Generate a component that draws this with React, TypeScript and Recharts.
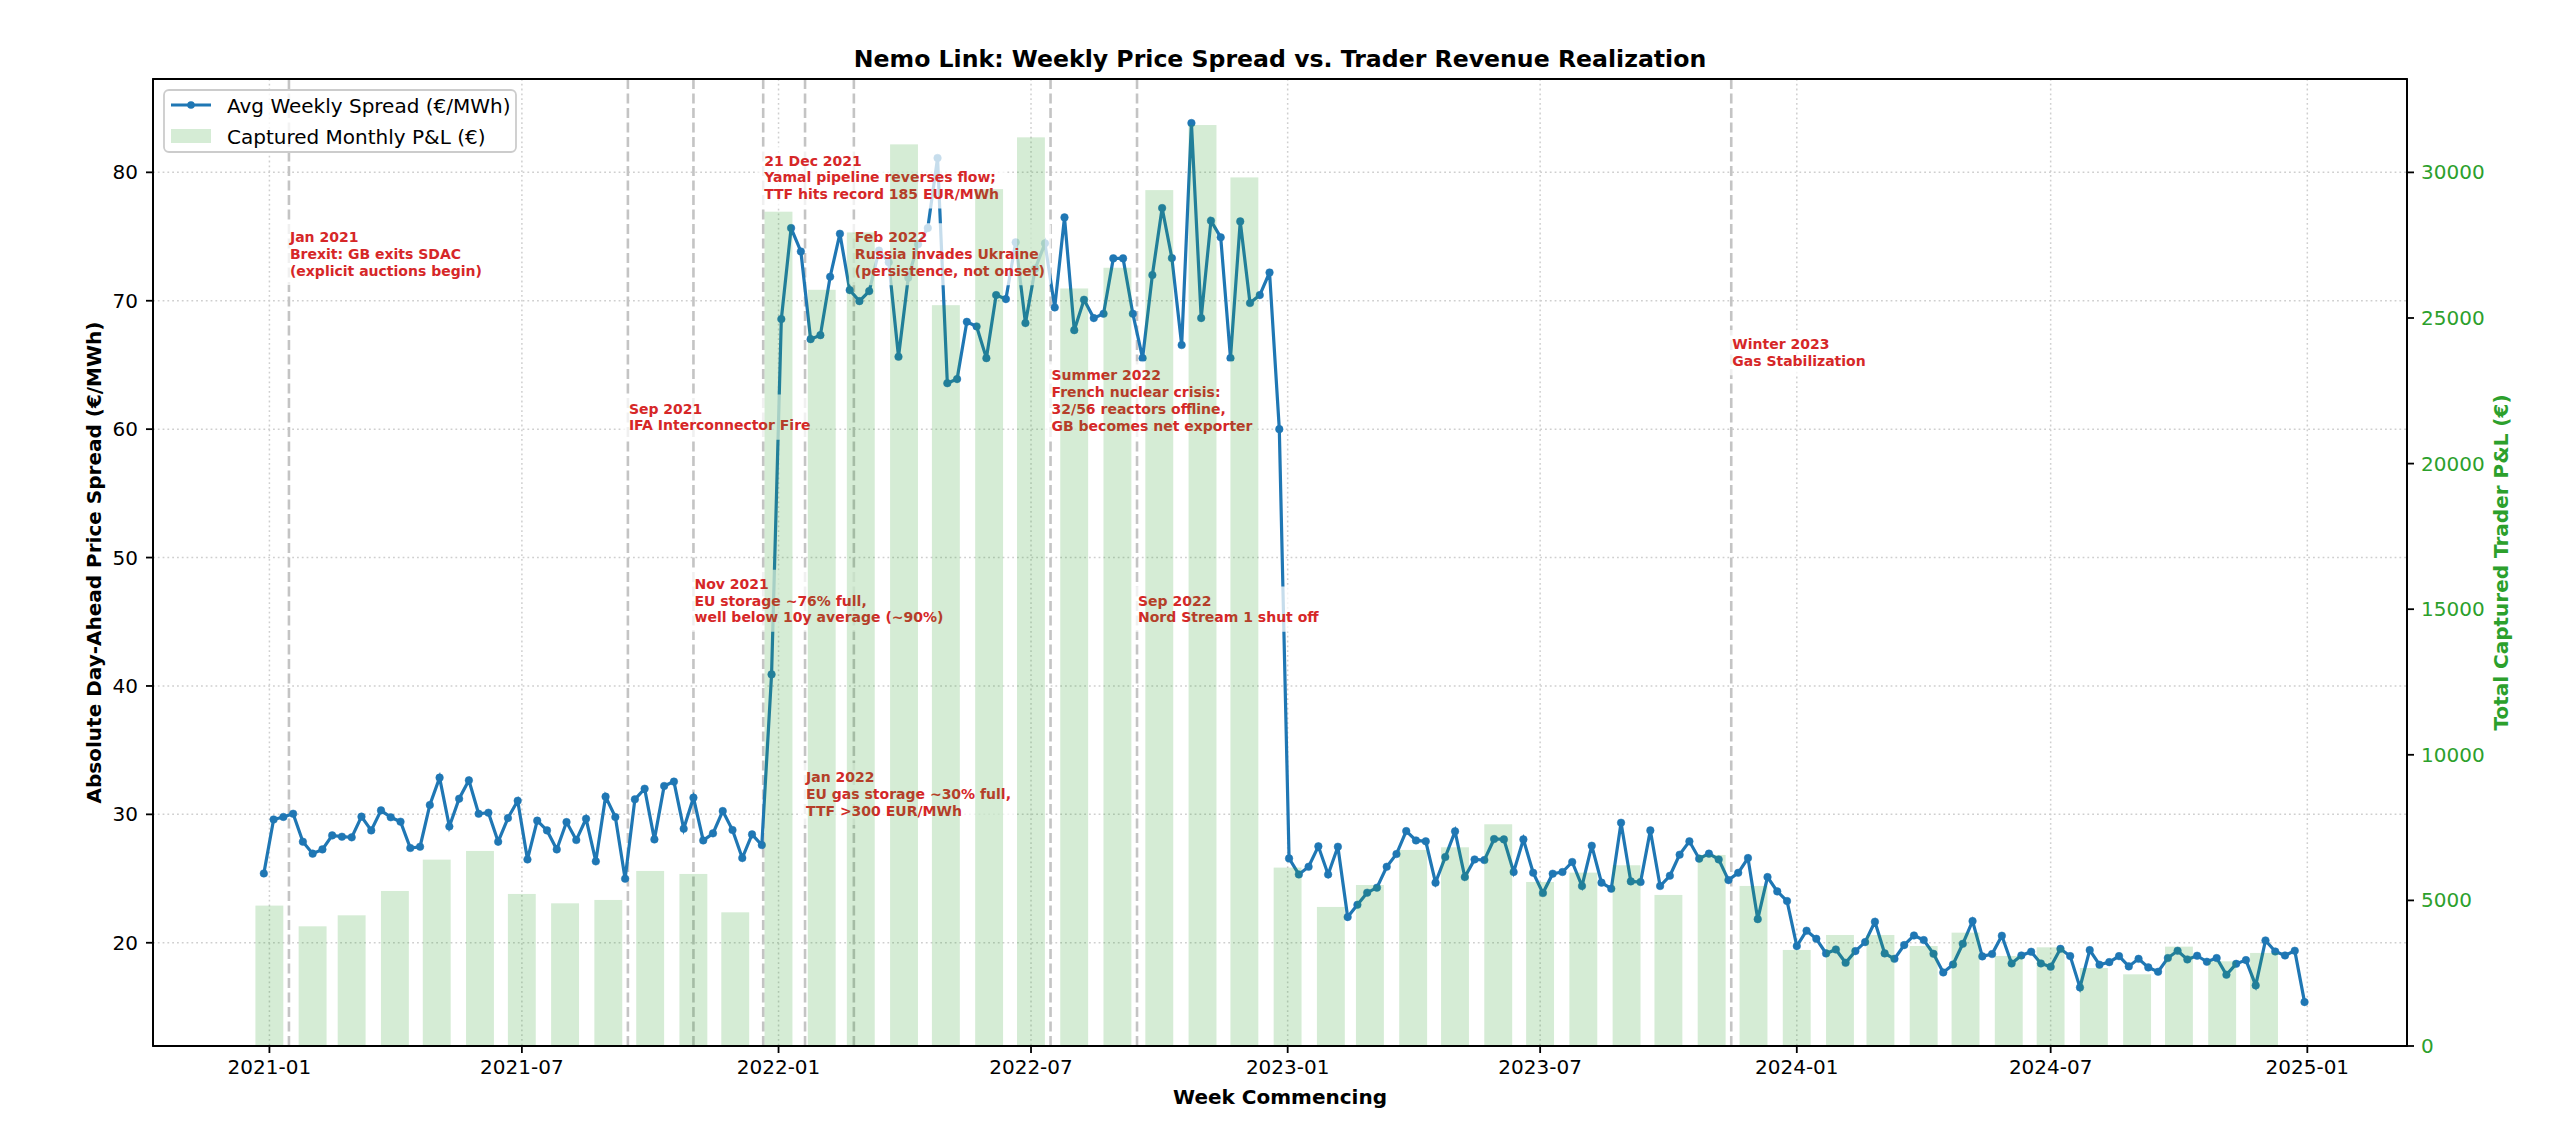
import {
  Bar,
  CartesianGrid,
  ComposedChart,
  Legend,
  Line,
  ReferenceArea,
  ReferenceDot,
  ReferenceLine,
  XAxis,
  YAxis,
} from "recharts"

const DAY = 24 * 60 * 60 * 1000
const WEEK_START = Date.UTC(2020, 11, 28)

// Avg weekly spread (€/MWh), one value per week starting 2020-12-28
const weeklySpread = [
  25.4, 29.6, 29.8, 30.05, 27.87, 26.94, 27.27, 28.36, 28.26, 28.21, 29.82, 28.75, 30.31,
  29.77, 29.43, 27.38, 27.48, 30.73, 32.86, 29.06, 31.22, 32.65, 30.05, 30.13, 27.87, 29.71,
  31.06, 26.49, 29.51, 28.75, 27.27, 29.4, 28.0, 29.66, 26.34, 31.38, 29.79, 24.99, 31.17,
  32.0, 28.05, 32.21, 32.55, 28.88, 31.3, 27.97, 28.52, 30.26, 28.78, 26.6, 28.44, 27.61,
  40.9,
  68.57, 75.66, 73.84, 67.01, 67.32, 71.87, 75.22, 70.83, 69.97, 70.75, 73.9, 73.0, 65.64,
  71.8, 74.4, 75.66, 81.12, 63.58, 63.9, 68.36, 68.0, 65.53, 70.44, 70.13, 74.55, 68.26,
  72.5, 74.47, 69.48, 76.49, 67.71, 70.08, 68.65, 68.99, 73.3, 73.3, 68.99, 65.53, 72.0,
  77.22, 73.32, 66.55, 83.84, 68.65, 76.23, 74.94, 65.53, 76.18, 69.82, 70.44,
  72.2, 60.0,
  26.57, 25.32, 25.92, 27.51, 25.32, 27.48, 22.0, 22.96, 23.9, 24.29, 25.92, 26.91, 28.7,
  27.97, 27.9, 24.68, 26.68, 28.68, 25.12, 26.49, 26.44, 28.08, 28.05, 25.51, 28.05, 25.45,
  23.87, 25.38, 25.51, 26.29, 24.42, 27.56, 24.68, 24.21, 29.35, 24.78, 24.73, 28.75, 24.42,
  25.22, 26.86, 27.9, 26.55, 26.94, 26.49, 24.88, 25.45, 26.6, 21.84, 25.12,
  24.0, 23.25,
  19.74, 20.94, 20.31, 19.17, 19.48, 18.44, 19.35, 20.05, 21.64, 19.17, 18.75, 19.82, 20.57,
  20.21, 19.14, 17.69, 18.31, 19.92, 21.69, 18.94, 19.12, 20.55, 18.39, 19.01, 19.3, 18.39,
  18.13, 19.53, 18.96, 16.52, 19.43, 18.29, 18.49, 18.96, 18.16, 18.75, 18.08, 17.74, 18.81,
  19.38, 18.7, 18.99, 18.52, 18.81, 17.51, 18.36, 18.65, 16.68, 20.18, 19.32, 19.01, 19.38,
  15.38,
]

// Captured monthly P&L (€), Jan 2021 .. Dec 2024
const monthlyPnl = [
  4821, 4110, 4488, 5324, 6400, 6698, 5221, 4900, 5015, 6011, 5908, 4591,
  28650, 25969, 27938, 30962, 25440, 29426, 31203, 26014, 26725, 29392, 31626, 29828,
  6126, 4775, 5530, 6733, 6824, 7614, 5633, 5954, 6206, 5187, 6561, 5496,
  3298, 3813, 3813, 3435, 3893, 3092, 3389, 2679, 2462, 3412, 2908, 3195,
]

const xTickLabels = ["2021-01", "2021-07", "2022-01", "2022-07", "2023-01", "2023-07", "2024-01", "2024-07", "2025-01"]
const spreadTicks = [20, 30, 40, 50, 60, 70, 80]
const pnlTicks = [0, 5000, 10000, 15000, 20000, 25000, 30000]

const eventDates = [
  "2021-01-15",
  "2021-09-15",
  "2021-11-01",
  "2021-12-21",
  "2022-01-20",
  "2022-02-24",
  "2022-07-15",
  "2022-09-15",
  "2023-11-15",
]
const eventLabels = [
  ["Jan 2021", "Brexit: GB exits SDAC", "(explicit auctions begin)"],
  ["Sep 2021", "IFA Interconnector Fire"],
  ["Nov 2021", "EU storage ~76% full,", "well below 10y average (~90%)"],
  ["21 Dec 2021", "Yamal pipeline reverses flow;", "TTF hits record 185 EUR/MWh"],
  ["Jan 2022", "EU gas storage ~30% full,", "TTF >300 EUR/MWh"],
  ["Feb 2022", "Russia invades Ukraine", "(persistence, not onset)"],
  ["Summer 2022", "French nuclear crisis:", "32/56 reactors offline,", "GB becomes net exporter"],
  ["Sep 2022", "Nord Stream 1 shut off"],
  ["Winter 2023", "Gas Stabilization"],
]
// €/MWh level where each note's first line sits
const eventLevels = [74.96, 61.6, 47.95, 80.92, 32.9, 74.94, 64.2, 46.65, 66.63]

const FONT = "DejaVu Sans"
const BLUE = "#1f77b4"
const GREEN = "#2ca02c"
const RED = "#d62728"

const CHART_W = 2560
const CHART_H = 1138
const MARGIN = { top: 79, right: 53, bottom: 52, left: 73 }
const LEFT_AXIS_W = 80
const RIGHT_AXIS_W = 100
const X_AXIS_H = 40
const PLOT_LEFT = MARGIN.left + LEFT_AXIS_W
const PLOT_RIGHT = CHART_W - MARGIN.right - RIGHT_AXIS_W
const PLOT_MID_X = (PLOT_LEFT + PLOT_RIGHT) / 2
const PLOT_MID_Y = (MARGIN.top + CHART_H - MARGIN.bottom - X_AXIS_H) / 2

const X_DOMAIN: [number, number] = [Date.UTC(2020, 9, 9, 13), Date.UTC(2025, 2, 13, 11)]
const SPREAD_DOMAIN: [number, number] = [11.96, 87.27]
const PNL_DOMAIN: [number, number] = [0, 33207]
const BAR_DAYS = 20
const BAR_PX = ((PLOT_RIGHT - PLOT_LEFT) * BAR_DAYS * DAY) / (X_DOMAIN[1] - X_DOMAIN[0])

const NOTE_SIZE = 14
const NOTE_LINE = 16.8
const NOTE_PAD = 6

const parseDay = (s: string) => {
  const [y, m, d] = s.split("-").map(Number)
  return Date.UTC(y, m - 1, d ?? 1)
}

const xTicks = xTickLabels.map(parseDay)

type Row = { t: number; spread?: number; pnl?: number }

const chartData: Row[] = [
  ...weeklySpread.map((spread, i) => ({ t: WEEK_START + i * 7 * DAY, spread })),
  ...monthlyPnl.map((pnl, i) => ({ t: Date.UTC(2021, i, 1), pnl })),
].sort((a, b) => a.t - b.t)

function formatMonth(t: number) {
  const d = new Date(t)
  return `${d.getUTCFullYear()}-${String(d.getUTCMonth() + 1).padStart(2, "0")}`
}

let measureCtx: CanvasRenderingContext2D | null = null
function noteWidth(s: string) {
  if (!measureCtx && typeof document !== "undefined") {
    measureCtx = document.createElement("canvas").getContext("2d")
  }
  if (!measureCtx) return s.length * 8.6
  measureCtx.font = `bold ${NOTE_SIZE}px "${FONT}"`
  return measureCtx.measureText(s).width
}

function EventNote({ viewBox, lines }: { viewBox?: any; lines: string[] }) {
  if (!viewBox) return null
  const x = viewBox.x + (viewBox.width ?? 0) / 2 + 1
  const y = viewBox.y + (viewBox.height ?? 0) / 2
  const baseline = y + 5
  const width = Math.max(...lines.map(noteWidth))
  const top = baseline - NOTE_SIZE * 0.93 - NOTE_PAD
  const bottom = baseline + (lines.length - 1) * NOTE_LINE + NOTE_SIZE * 0.24 + NOTE_PAD

  return (
    <g>
      <rect
        x={x - NOTE_PAD}
        y={top}
        width={width + NOTE_PAD * 2}
        height={bottom - top}
        rx={3}
        fill="#fff"
        fillOpacity={0.75}
      />
      <text x={x} y={baseline} fill={RED} fontSize={NOTE_SIZE} fontWeight="bold" fontFamily={FONT}>
        {lines.map((line, i) => (
          <tspan key={i} x={x} dy={i === 0 ? 0 : NOTE_LINE}>
            {line}
          </tspan>
        ))}
      </text>
    </g>
  )
}

function PnlBar(props: any) {
  const { x, y, width, height, payload } = props
  if (payload?.pnl == null || !Number.isFinite(x) || !Number.isFinite(height)) return <g />
  const cx = x + width / 2
  return <rect x={cx - BAR_PX / 2} y={y} width={BAR_PX} height={height} fill={GREEN} fillOpacity={0.2} />
}

function LegendBox() {
  return (
    <svg width={354} height={64} style={{ display: "block" }}>
      <rect x={1} y={1} width={352} height={62} rx={5} fill="#fff" fillOpacity={0.8} stroke="#cccccc" strokeWidth={1.8} />
      <line x1={8} y1={16} x2={48} y2={16} stroke={BLUE} strokeWidth={3.2} />
      <circle cx={28} cy={16} r={3.8} fill={BLUE} />
      <text x={64} y={23.5} fontSize={20} fontFamily={FONT} fill="#000">
        Avg Weekly Spread (€/MWh)
      </text>
      <rect x={8} y={40} width={40} height={14} fill={GREEN} fillOpacity={0.2} />
      <text x={64} y={54.5} fontSize={20} fontFamily={FONT} fill="#000">
        Captured Monthly P&amp;L (€)
      </text>
    </svg>
  )
}

const tickStyle = { fill: "#000", fontSize: 20, fontFamily: FONT }
const tickLineStyle = { stroke: "#000", strokeWidth: 1.8 }

export default function App() {
  return (
    <div style={{ position: "absolute", left: 0, top: 0, width: CHART_W, height: CHART_H, background: "#fff" }}>
      <ComposedChart width={CHART_W} height={CHART_H} data={chartData} margin={MARGIN}>
        <CartesianGrid
          yAxisId="left"
          stroke="#cfcfcf"
          strokeWidth={1.5}
          strokeDasharray="1.8 3"
          horizontalValues={spreadTicks}
          verticalValues={xTicks}
        />
        <XAxis
          dataKey="t"
          type="number"
          domain={X_DOMAIN}
          allowDataOverflow
          ticks={xTicks}
          interval={0}
          tickFormatter={formatMonth}
          height={X_AXIS_H}
          tick={tickStyle}
          tickSize={7}
          tickMargin={7}
          tickLine={tickLineStyle}
          axisLine={{ stroke: "#000", strokeWidth: 1.8 }}
        />
        <YAxis
          yAxisId="left"
          type="number"
          domain={SPREAD_DOMAIN}
          allowDataOverflow
          ticks={spreadTicks}
          interval={0}
          width={LEFT_AXIS_W}
          tick={tickStyle}
          tickSize={7}
          tickMargin={8}
          tickLine={tickLineStyle}
          axisLine={{ stroke: "#000", strokeWidth: 1.8 }}
        />
        <YAxis
          yAxisId="right"
          orientation="right"
          type="number"
          domain={PNL_DOMAIN}
          allowDataOverflow
          ticks={pnlTicks}
          interval={0}
          width={RIGHT_AXIS_W}
          tick={{ ...tickStyle, fill: GREEN }}
          tickSize={7}
          tickMargin={7}
          tickLine={tickLineStyle}
          axisLine={{ stroke: "#000", strokeWidth: 1.8 }}
        />
        {eventDates.map((d) => (
          <ReferenceLine
            key={`line-${d}`}
            yAxisId="left"
            x={parseDay(d)}
            stroke="#c4c4c4"
            strokeWidth={2.6}
            strokeDasharray="10 4.5"
          />
        ))}
        <Line
          yAxisId="left"
          dataKey="spread"
          type="linear"
          stroke={BLUE}
          strokeWidth={3.2}
          dot={{ r: 3.8, fill: BLUE, stroke: BLUE, strokeWidth: 0.5 }}
          activeDot={false}
          connectNulls
          isAnimationActive={false}
          name="Avg Weekly Spread (€/MWh)"
          zIndex={400}
        />
        {eventDates.map((d, i) => (
          <ReferenceDot
            key={`note-${d}`}
            yAxisId="left"
            x={parseDay(d)}
            y={eventLevels[i]}
            r={0}
            fill="none"
            stroke="none"
            ifOverflow="visible"
            zIndex={1900}
            label={<EventNote lines={eventLabels[i]} />}
          />
        ))}
        <Bar
          yAxisId="right"
          dataKey="pnl"
          shape={PnlBar}
          isAnimationActive={false}
          name="Captured Monthly P&L (€)"
          zIndex={2100}
        />
        <ReferenceArea
          yAxisId="left"
          x1={X_DOMAIN[0]}
          x2={X_DOMAIN[1]}
          y1={SPREAD_DOMAIN[0]}
          y2={SPREAD_DOMAIN[1]}
          fill="none"
          fillOpacity={0}
          stroke="#000"
          strokeWidth={1.8}
          ifOverflow="visible"
          zIndex={2200}
        />
        <Legend
          layout="horizontal"
          verticalAlign="middle"
          align="center"
          content={() => <LegendBox />}
          wrapperStyle={{ left: 163, top: 89, width: 354, height: 64 }}
        />
      </ComposedChart>
      <svg
        width={CHART_W}
        height={CHART_H}
        style={{ position: "absolute", left: 0, top: 0, pointerEvents: "none" }}
      >
        <text x={PLOT_MID_X} y={66.7} textAnchor="middle" fontSize={23.6} fontWeight="bold" fontFamily={FONT}>
          Nemo Link: Weekly Price Spread vs. Trader Revenue Realization
        </text>
        <text x={PLOT_MID_X} y={1104} textAnchor="middle" fontSize={20} fontWeight="bold" fontFamily={FONT}>
          Week Commencing
        </text>
        <text
          x={101}
          y={PLOT_MID_Y}
          textAnchor="middle"
          fontSize={20}
          fontWeight="bold"
          fontFamily={FONT}
          transform={`rotate(-90, 101, ${PLOT_MID_Y})`}
        >
          Absolute Day-Ahead Price Spread (€/MWh)
        </text>
        <text
          x={2508}
          y={PLOT_MID_Y}
          textAnchor="middle"
          fontSize={20}
          fontWeight="bold"
          fontFamily={FONT}
          fill={GREEN}
          transform={`rotate(-90, 2508, ${PLOT_MID_Y})`}
        >
          Total Captured Trader P&amp;L (€)
        </text>
      </svg>
    </div>
  )
}
